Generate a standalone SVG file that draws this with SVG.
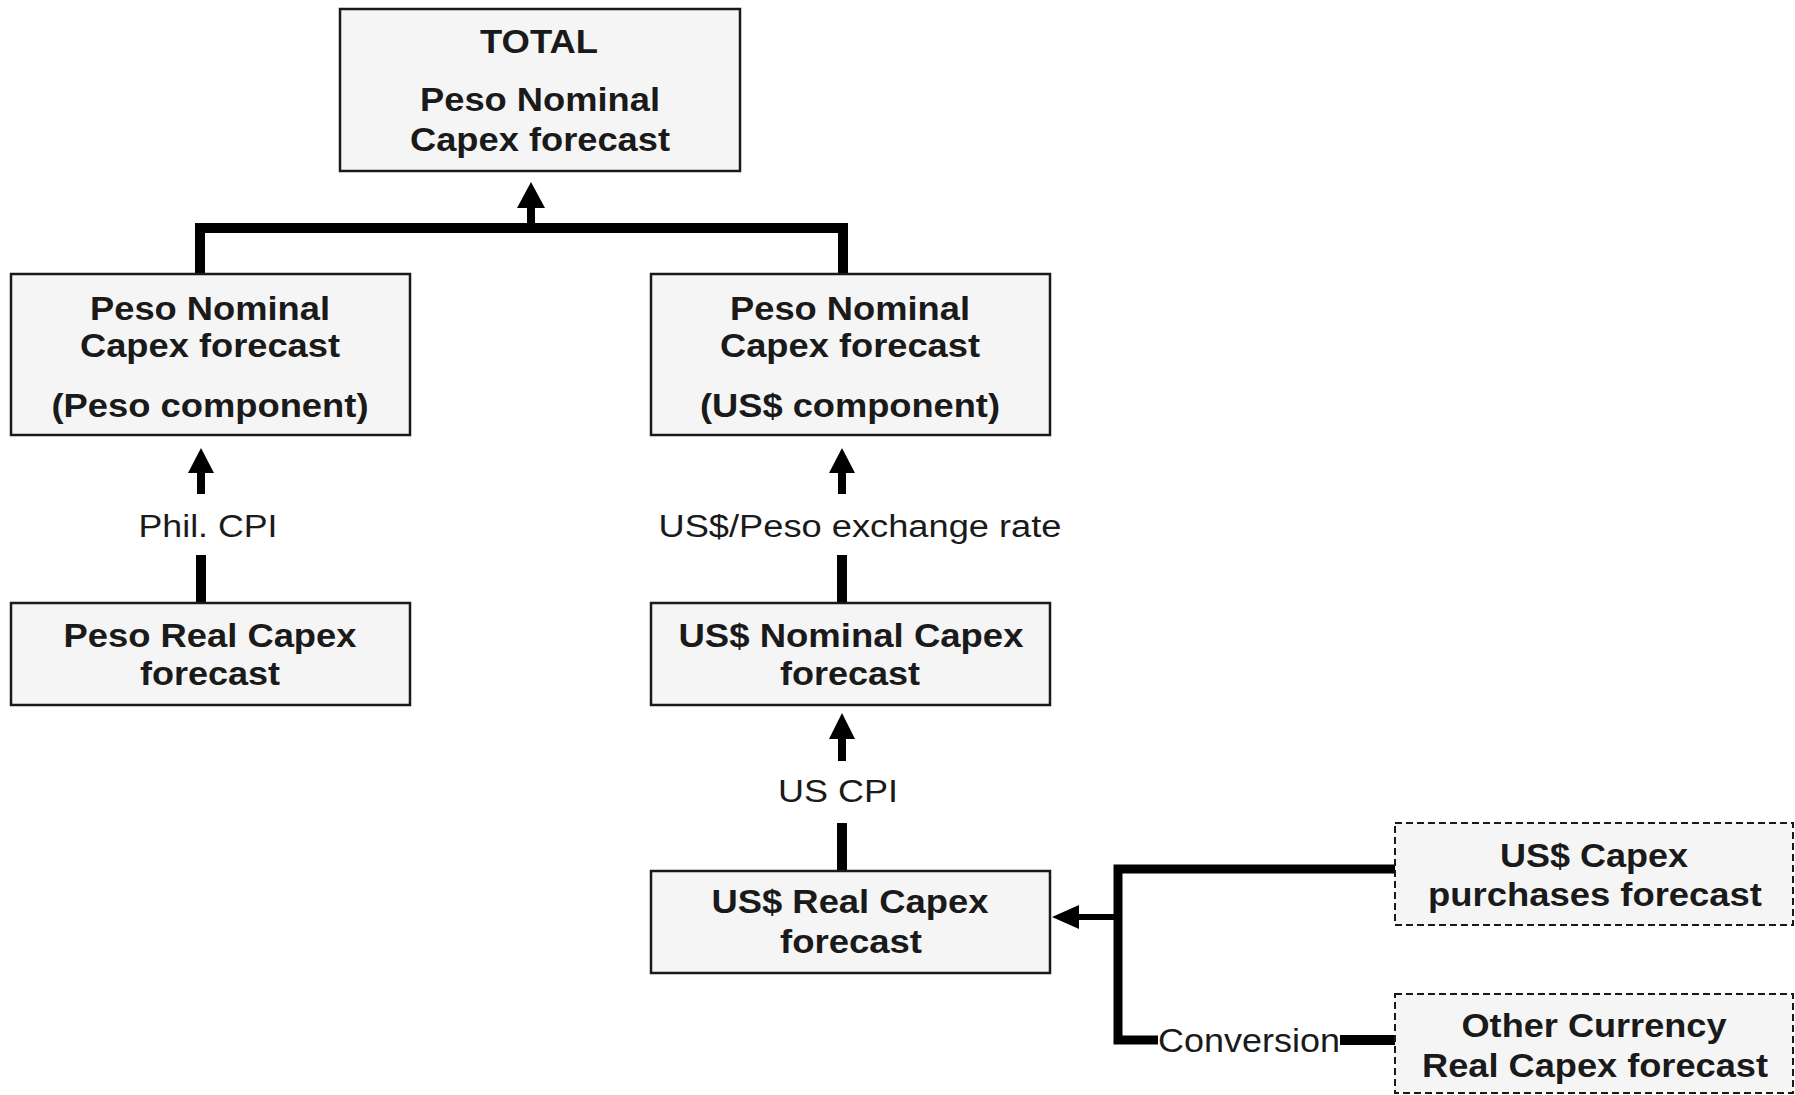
<svg xmlns="http://www.w3.org/2000/svg" width="1795" height="1095" viewBox="0 0 1795 1095">
  <style>
    .box { fill: #f5f5f5; stroke: #1a1a1a; stroke-width: 2.5; }
    .dbox { fill: #f5f5f5; stroke: #1a1a1a; stroke-width: 2; stroke-dasharray: 7 4; }
    .bt { font-family: "Liberation Sans", Arial, sans-serif; font-weight: bold; font-size: 33px; fill: #1a1a1a; text-anchor: middle; }
    .lt { font-family: "Liberation Sans", Arial, sans-serif; font-size: 31px; fill: #1a1a1a; text-anchor: middle; }
    .wire { fill: none; stroke: #000; stroke-width: 10; stroke-linejoin: miter; stroke-linecap: butt; }
    .stem { fill: none; stroke: #000; stroke-width: 8; }
    .head { fill: #000; }
  </style>
  <rect width="1795" height="1095" fill="#ffffff"/>

  <g id="connectors">
    <!-- top bracket -->
    <path class="wire" d="M200,274 V228 H843 V274"/>
    <path class="stem" d="M531,228 V205"/>
    <polygon class="head" points="531,182 545,208 517,208"/>
    <!-- Phil CPI -->
    <path class="wire" d="M201,603 V555"/>
    <path class="stem" d="M201,494 V470"/>
    <polygon class="head" points="201,448 214,473 188,473"/>
    <text class="lt" x="208" y="537" textLength="139" lengthAdjust="spacingAndGlyphs">Phil. CPI</text>
    <!-- exchange rate -->
    <path class="wire" d="M842,603 V555"/>
    <path class="stem" d="M842,494 V470"/>
    <polygon class="head" points="842,448 855,473 829,473"/>
    <text class="lt" x="860" y="537" textLength="403" lengthAdjust="spacingAndGlyphs">US$/Peso exchange rate</text>
    <!-- US CPI -->
    <path class="wire" d="M842,871 V823"/>
    <path class="stem" d="M842,761 V736"/>
    <polygon class="head" points="842,713 855,739 829,739"/>
    <text class="lt" x="838" y="802" textLength="120" lengthAdjust="spacingAndGlyphs">US CPI</text>
    <!-- right bracket -->
    <path class="wire" d="M1395,869 H1118 V1040 H1158" style="stroke-width:9"/>
    <path class="wire" d="M1340,1040 H1395"/>
    <path class="stem" d="M1118,917 H1076" style="stroke-width:6"/>
    <polygon class="head" points="1052,917 1079,905 1079,929"/>
    <text class="lt" x="1249" y="1052" style="font-size:33px" textLength="182" lengthAdjust="spacingAndGlyphs">Conversion</text>
  </g>

  <g id="n-total">
    <rect class="box" x="340" y="9" width="400" height="162"/>
    <text class="bt" x="539" y="53" textLength="118" lengthAdjust="spacingAndGlyphs">TOTAL</text>
    <text class="bt" x="540" y="111" textLength="240" lengthAdjust="spacingAndGlyphs">Peso Nominal</text>
    <text class="bt" x="540" y="151" textLength="260" lengthAdjust="spacingAndGlyphs">Capex forecast</text>
  </g>

  <g id="n-peso-nominal-peso">
    <rect class="box" x="11" y="274" width="399" height="161"/>
    <text class="bt" x="210" y="320" textLength="240" lengthAdjust="spacingAndGlyphs">Peso Nominal</text>
    <text class="bt" x="210" y="357" textLength="260" lengthAdjust="spacingAndGlyphs">Capex forecast</text>
    <text class="bt" x="210" y="417" textLength="317" lengthAdjust="spacingAndGlyphs">(Peso component)</text>
  </g>

  <g id="n-peso-nominal-us">
    <rect class="box" x="651" y="274" width="399" height="161"/>
    <text class="bt" x="850" y="320" textLength="240" lengthAdjust="spacingAndGlyphs">Peso Nominal</text>
    <text class="bt" x="850" y="357" textLength="260" lengthAdjust="spacingAndGlyphs">Capex forecast</text>
    <text class="bt" x="850" y="417" textLength="300" lengthAdjust="spacingAndGlyphs">(US$ component)</text>
  </g>

  <g id="n-peso-real">
    <rect class="box" x="11" y="603" width="399" height="102"/>
    <text class="bt" x="210" y="647" textLength="293" lengthAdjust="spacingAndGlyphs">Peso Real Capex</text>
    <text class="bt" x="210" y="685" textLength="140" lengthAdjust="spacingAndGlyphs">forecast</text>
  </g>

  <g id="n-us-nominal">
    <rect class="box" x="651" y="603" width="399" height="102"/>
    <text class="bt" x="851" y="647" textLength="345" lengthAdjust="spacingAndGlyphs">US$ Nominal Capex</text>
    <text class="bt" x="850" y="685" textLength="140" lengthAdjust="spacingAndGlyphs">forecast</text>
  </g>

  <g id="n-us-real">
    <rect class="box" x="651" y="871" width="399" height="102"/>
    <text class="bt" x="850" y="913" textLength="277" lengthAdjust="spacingAndGlyphs">US$ Real Capex</text>
    <text class="bt" x="851" y="953" textLength="142" lengthAdjust="spacingAndGlyphs">forecast</text>
  </g>

  <g id="n-us-purchases">
    <rect class="dbox" x="1395" y="823" width="398" height="102"/>
    <text class="bt" x="1594" y="867" textLength="188" lengthAdjust="spacingAndGlyphs">US$ Capex</text>
    <text class="bt" x="1595" y="906" textLength="334" lengthAdjust="spacingAndGlyphs">purchases forecast</text>
  </g>

  <g id="n-other-currency">
    <rect class="dbox" x="1395" y="994" width="398" height="99"/>
    <text class="bt" x="1594" y="1037" textLength="265" lengthAdjust="spacingAndGlyphs">Other Currency</text>
    <text class="bt" x="1595" y="1077" textLength="346" lengthAdjust="spacingAndGlyphs">Real Capex forecast</text>
  </g>
</svg>
